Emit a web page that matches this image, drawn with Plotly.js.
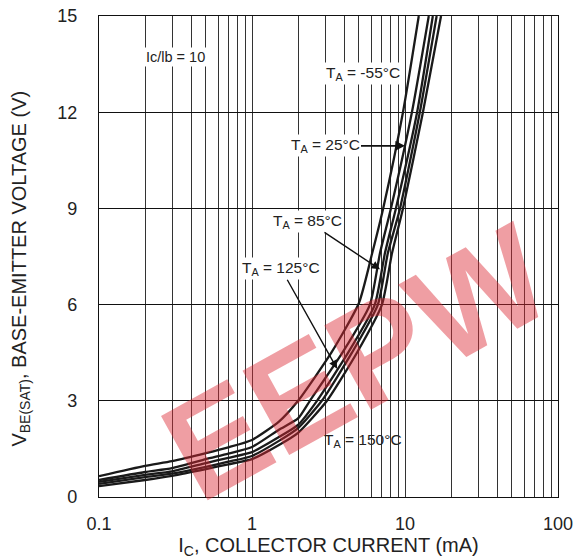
<!DOCTYPE html>
<html>
<head>
<meta charset="utf-8">
<script src="https://cdn.plot.ly/plotly-3.0.1.min.js"></script>
<style>html,body{margin:0;padding:0;background:#fff;}#chart{width:578px;height:559px;}</style>
</head>
<body>
<div id="chart"></div>
<script>
// Collector current (mA) and V_BE(SAT) (V) per ambient temperature
const ic_m55 = [0.1, 0.2, 0.3, 0.5, 0.7, 1, 1.5, 2, 3.3, 5, 6.1, 7.2, 9.7, 12.3];
const vbe_m55 = [0.65, 0.97, 1.12, 1.37, 1.55, 1.78, 2.35, 3.0, 4.5, 6.05, 7.6, 9, 12, 15];
const ic_25 = [0.1, 0.2, 0.3, 0.5, 0.7, 1, 1.5, 2, 2.39, 3.9, 5.9, 6.86, 8.09, 11.1, 14.3];
const vbe_25 = [0.53, 0.78, 0.90, 1.18, 1.35, 1.56, 2.1, 2.45, 3, 4.5, 6, 7.6, 9, 12, 15];
const ic_85 = [0.1, 0.2, 0.3, 0.5, 0.7, 1, 1.5, 2, 2.66, 4.25, 6.35, 7.39, 8.72, 12.0, 15.2];
const vbe_85 = [0.47, 0.69, 0.80, 1.06, 1.22, 1.40, 1.87, 2.25, 3, 4.5, 6, 7.6, 9, 12, 15];
const ic_125 = [0.1, 0.2, 0.3, 0.5, 0.7, 1, 1.5, 2, 2.86, 4.5, 6.65, 7.72, 9.28, 12.5, 16.1];
const vbe_125 = [0.41, 0.62, 0.73, 0.94, 1.10, 1.28, 1.75, 2.15, 3, 4.5, 6, 7.6, 9, 12, 15];
const ic_150 = [0.1, 0.2, 0.3, 0.5, 0.7, 1, 1.5, 2, 3.09, 4.85, 7.07, 8.22, 9.7, 13.1, 17.2];
const vbe_150 = [0.34, 0.53, 0.66, 0.87, 1.02, 1.18, 1.62, 2.0, 3, 4.5, 6, 7.6, 9, 12, 15];

const xMinorVals = [0.2,0.3,0.4,0.5,0.6,0.7,0.8,0.9,2,3,4,5,6,7,8,9,20,30,40,50,60,70,80,90];
const xMajor = [0.1, 1, 10, 100];
const xMajorText = ['0.1', '1', '10', '100'];
const yTicks = [0, 3, 6, 9, 12, 15];

const series = [
  {name: 'TA = -55°C', x: ic_m55, y: vbe_m55},
  {name: 'TA = 25°C', x: ic_25, y: vbe_25},
  {name: 'TA = 85°C', x: ic_85, y: vbe_85},
  {name: 'TA = 125°C', x: ic_125, y: vbe_125},
  {name: 'TA = 150°C', x: ic_150, y: vbe_150}
];

const traces = series.map(s => ({
  type: 'scatter', mode: 'lines', name: s.name, x: s.x, y: s.y,
  line: {color: '#1a1a1a', width: 2.3, shape: 'spline', smoothing: 0.55},
  hoverinfo: 'x+y+name'
}));

const fam = 'Liberation Sans, Arial, sans-serif';
const txt = '#222';

const layout = {
  width: 578, height: 559,
  margin: {l: 99, r: 20, t: 16, b: 62},
  paper_bgcolor: '#fff', plot_bgcolor: '#fff',
  showlegend: false,
  font: {family: fam, color: txt},
  xaxis: {
    type: 'log', range: [-1, 2],
    tickvals: xMajor, ticktext: xMajorText,
    showgrid: true, gridcolor: '#333', gridwidth: 1,
    minor: {tickmode: 'array', tickvals: xMinorVals, showgrid: true, gridcolor: '#333', gridwidth: 1, ticks: ''},
    showline: true, linecolor: '#111', linewidth: 1.2, mirror: true,
    ticks: '', zeroline: false, ticklabelstandoff: 10,
    tickfont: {size: 18, family: fam, color: txt},
    title: {text: 'I<sub>C</sub>, COLLECTOR CURRENT (mA)', font: {size: 20, family: fam, color: txt}, standoff: 4}
  },
  yaxis: {
    range: [0, 15], tickvals: yTicks,
    showgrid: true, gridcolor: '#111', gridwidth: 1,
    showline: true, linecolor: '#111', linewidth: 1.2, mirror: true,
    ticks: '', zeroline: false, ticklabelstandoff: 17,
    tickfont: {size: 18, family: fam, color: txt}
  },
  annotations: [
    {xref: 'paper', yref: 'paper', x: -0.172, y: 0.475, xanchor: 'center', yanchor: 'middle',
     text: 'V<sub>BE(SAT)</sub>, BASE-EMITTER VOLTAGE (V)', textangle: -90, showarrow: false,
     font: {size: 20, family: fam, color: txt}},
    {xref: 'paper', yref: 'paper', x: 0.56, y: 0.28, xanchor: 'center', yanchor: 'middle',
     text: '<b>EEPW</b>', showarrow: false, textangle: -29,
     font: {size: 140, family: fam, color: 'rgba(220,40,50,0.45)'}},
    {xref: 'x', yref: 'y', x: Math.log10(0.314), y: 13.72, text: 'Ic/lb = 10', showarrow: false,
     font: {size: 14.5, family: fam, color: txt}, bgcolor: '#fff'},
    {xref: 'x', yref: 'y', x: Math.log10(5.31), y: 13.22, text: 'T<sub>A</sub> = -55°C', showarrow: false,
     font: {size: 15.5, family: fam, color: txt}, bgcolor: '#fff'},
    {xref: 'x', yref: 'y', x: Math.log10(10.0), y: 10.95, text: 'T<sub>A</sub> = 25°C', showarrow: true,
     ax: -80, ay: 0, arrowhead: 2, arrowsize: 1.2, arrowwidth: 1.6, arrowcolor: '#111',
     font: {size: 15.5, family: fam, color: txt}, bgcolor: '#fff'},
    {xref: 'x', yref: 'y', x: Math.log10(6.86), y: 7.1, text: 'T<sub>A</sub> = 85°C', showarrow: true,
     ax: -72, ay: -48, arrowhead: 2, arrowsize: 1.2, arrowwidth: 1.4, arrowcolor: '#111',
     font: {size: 15.5, family: fam, color: txt}, bgcolor: '#fff'},
    {xref: 'x', yref: 'y', x: Math.log10(3.6), y: 4.0, text: 'T<sub>A</sub> = 125°C', showarrow: true,
     ax: -56, ay: -100, arrowhead: 2, arrowsize: 1.2, arrowwidth: 1.4, arrowcolor: '#111',
     font: {size: 15.5, family: fam, color: txt}, bgcolor: '#fff'},
    {xref: 'x', yref: 'y', x: Math.log10(5.31), y: 1.77, text: 'T<sub>A</sub> = 150°C', showarrow: false,
     font: {size: 15.5, family: fam, color: txt}}
  ]
};

Plotly.newPlot('chart', traces, layout, {displayModeBar: false, staticPlot: true});
</script>
</body>
</html>
